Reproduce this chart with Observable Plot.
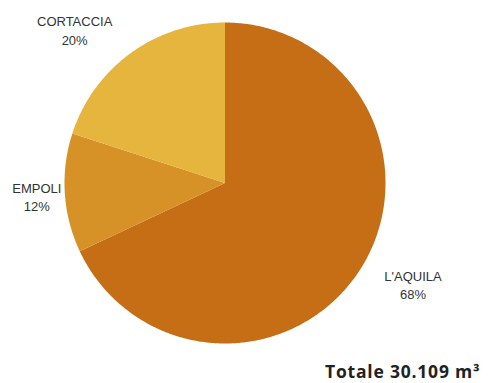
<!DOCTYPE html>
<html>
<head>
<meta charset="utf-8">
<script src="https://cdn.jsdelivr.net/npm/d3@7"></script>
<script src="https://cdn.jsdelivr.net/npm/@observablehq/plot@0.6"></script>
<style>
  html, body { margin: 0; padding: 0; background: #fff; }
  #chart svg { display: block; }
</style>
</head>
<body>
<div id="chart"></div>
<script>
const categories = ["L'AQUILA", "EMPOLI", "CORTACCIA"];
const shares = [68, 12, 20];
const totalLabel = "Totale 30.109 m³";

const palette = ["#C66E15", "#D79227", "#E5B53D"];

const pie = d3.pie().sort(null).value(d => d.share);
const slices = pie(categories.map((name, i) => ({name, share: shares[i]})));

// polygon points for each slice in unit-circle data space
const pts = [];
for (const s of slices) {
  const n = Math.max(2, Math.ceil((s.endAngle - s.startAngle) / 0.01));
  pts.push({name: s.data.name, x: 0, y: 0});
  for (let k = 0; k <= n; k++) {
    const a = s.startAngle + (s.endAngle - s.startAngle) * k / n;
    pts.push({name: s.data.name, x: Math.sin(a), y: Math.cos(a)});
  }
  pts.push({name: s.data.name, x: 0, y: 0});
}

const labelData = slices.map(s => {
  const a = (s.startAngle + s.endAngle) / 2;
  return {name: s.data.name, text: `${s.data.name}\n${s.data.share}%`, x: Math.sin(a), y: Math.cos(a)};
});
const labelOffsets = {"L'AQUILA": [52.5, 15], "EMPOLI": [-28, 3], "CORTACCIA": [-56, -23.4]};

const marks = [
  Plot.line(pts, {x: "x", y: "y", z: "name", fill: "name", stroke: "none"})
];
for (const d of labelData) {
  const [dx, dy] = labelOffsets[d.name];
  marks.push(Plot.text([d], {
    x: "x", y: "y", text: "text", dx, dy,
    fontSize: 13, lineHeight: 1.4, lineAnchor: "middle", textAnchor: "middle",
    fill: "#333", fontFamily: "Liberation Sans, Arial, sans-serif"
  }));
}
marks.push(Plot.text([totalLabel], {
  frameAnchor: "bottom-right", text: d => d, textAnchor: "end", lineAnchor: "middle",
  dx: -11, dy: -11, fontSize: 17.5, fontWeight: "bold", fill: "#222",
  fontFamily: "Open Sans, sans-serif"
}));

const chart = Plot.plot({
  width: 491,
  height: 383,
  margin: 0,
  x: {domain: [-1, 1], range: [64, 385], axis: null},
  y: {domain: [-1, 1], range: [343, 22], axis: null},
  color: {domain: categories, range: palette},
  marks
});
d3.select(chart).selectAll("text")
  .filter(function() { return this.textContent === totalLabel; })
  .style("letter-spacing", "0.8px");
document.getElementById("chart").appendChild(chart);
</script>
</body>
</html>
